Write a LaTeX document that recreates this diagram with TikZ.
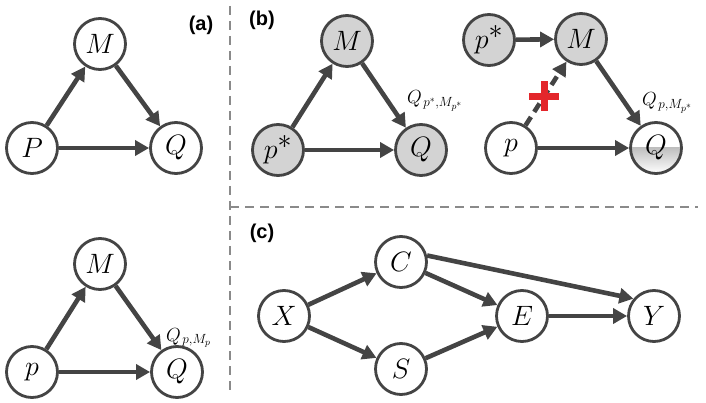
\RequirePackage{fix-cm}
\documentclass[tikz,border=0pt]{standalone}
\usepackage{amsmath,amssymb}
\usepackage{fontspec}
\setsansfont{Liberation Sans}
\usepackage{tikz}
\usetikzlibrary{arrows.meta,calc}
\definecolor{ink}{HTML}{444444}
\definecolor{shade}{HTML}{D3D3D3}
\definecolor{rule}{HTML}{8A8A8A}
\definecolor{cut}{HTML}{E3262B}
\newcommand{\pstar}{p^{\textstyle *}}
\tikzset{
  var/.style={circle, draw=ink, line width=2.8pt, fill=white, minimum size=51pt,
    inner sep=0pt, font=\fontsize{28}{32}\selectfont},
  obs/.style={var, fill=shade},
  half/.style={var, path picture={\fill[shade] (path picture bounding box.west)
    rectangle (path picture bounding box.south east);}},
  link/.style={draw=ink, line width=4.6pt, -{Triangle[length=14pt,width=15pt]}},
  cutlink/.style={link, dash pattern=on 10pt off 6pt},
  panel/.style={font=\sffamily\bfseries\fontsize{20}{22}\selectfont},
  qlab/.style={anchor=west, inner sep=0pt, font=\fontsize{19}{21}\selectfont},
  divider/.style={draw=rule, line width=1.6pt, dash pattern=on 9pt off 6pt}
}

\begin{document}
\begin{tikzpicture}[x=1pt, y=-1pt]
\useasboundingbox (0,0) rectangle (706,403);

% dividers
\coordinate (vtop) at (230,6);
\coordinate (vbot) at (230,392);
\coordinate (hmid) at (230,207);
\coordinate (hend) at (698,207);
\draw[divider] (vtop) -- (vbot);
\draw[divider] (hmid) -- (hend);

% (a) top
\node[panel] (la) at (201,25) {(a)};
\node[var] (aM) at (100,44) {$M$};
\node[var] (aP) at (32,148) {$P$};
\node[var] (aQ) at (176,148) {$Q$};
\draw[link] (aP) -- (aM);
\draw[link] (aM) -- (aQ);
\draw[link] (aP) -- (aQ);

% (a) bottom
\node[var] (dM) at (100,264) {$M$};
\node[var] (dp) at (32,372) {$p$};
\node[var] (dQ) at (177,372) {$Q$};
\node[qlab] (dL) at (166,338) {$Q_{\mkern2mu p,M_p}$};
\draw[link] (dp) -- (dM);
\draw[link] (dM) -- (dQ);
\draw[link] (dp) -- (dQ);

% (b) left
\node[panel] (lb) at (262,20) {(b)};
\node[obs] (bM) at (347,41) {$M$};
\node[obs] (bp) at (278,150) {$\pstar$};
\node[obs] (bQ) at (421,150) {$Q$};
\node[qlab] (bL) at (407,101) {$Q_{\mkern2mu p^{*},M_{p^{*}}}$};
\draw[link] (bp) -- (bM);
\draw[link] (bM) -- (bQ);
\draw[link] (bp) -- (bQ);

% (b) right
\node[obs] (cs) at (489,40) {$\pstar$};
\node[obs] (cM) at (581,39) {$M$};
\node[var] (cp) at (511,148) {$p$};
\node[half] (cQ) at (656,148) {$Q$};
\node[qlab] (cL) at (642,103) {$Q_{\mkern2mu p,M_{p^{*}}}$};
\draw[link] (cs) -- (cM);
\draw[link] (cM) -- (cQ);
\draw[link] (cp) -- (cQ);
\draw[cutlink] (cp) -- coordinate[pos=.46] (x) (cM);
\draw[cut, line width=7pt] ([xshift=-15]x) -- ([xshift=15]x);
\draw[cut, line width=7pt] ([yshift=-15]x) -- ([yshift=15]x);

% (c)
\node[panel] (lc) at (262,233) {(c)};
\node[var] (X) at (284,316) {$X$};
\node[var] (C) at (401,262) {$C$};
\node[var] (S) at (401,369) {$S$};
\node[var] (E) at (522,316) {$E$};
\node[var] (Y) at (654,316) {$Y$};
\draw[link] (X) -- (C);
\draw[link] (X) -- (S);
\draw[link] (C) -- (E);
\draw[link] (C.14) -- (Y.140);
\draw[link] (S) -- (E);
\draw[link] (E) -- (Y);

\end{tikzpicture}
\end{document}
